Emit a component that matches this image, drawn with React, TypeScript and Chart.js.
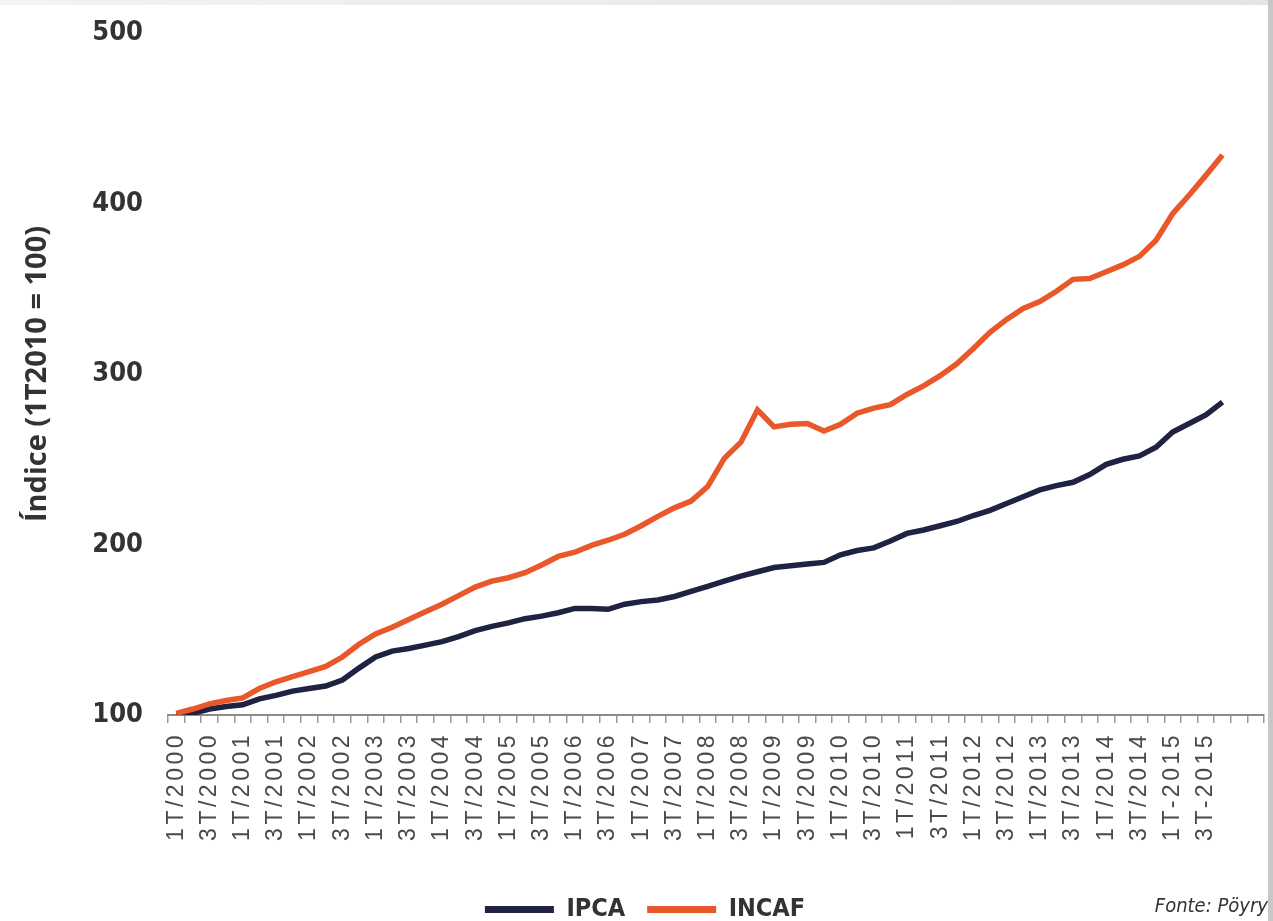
import React, { useEffect, useRef } from "react";
import { Chart, registerables } from "chart.js";

Chart.register(...registerables);

const years = [2000, 2001, 2002, 2003, 2004, 2005, 2006, 2007, 2008, 2009, 2010, 2011, 2012, 2013, 2014, 2015];
const quarters = ["1T", "2T", "3T", "4T"];
const trailingEmptyCategories = ["", ""];

const ipca = [
  100, 101, 103.5, 105, 106, 109.5, 111.5, 114, 115.5, 117,
  120.5, 127.5, 134, 137.5, 139, 141, 143, 146, 149.5, 152,
  154, 156.5, 158, 160, 162.5, 162.5, 162, 165, 166.5, 167.5,
  169.5, 172.5, 175.5, 178.5, 181.5, 184, 186.5, 187.5, 188.5, 189.5,
  194, 196.5, 198, 202, 206.5, 208.5, 211, 213.5, 217, 220,
  224, 228, 232, 234.5, 236.5, 241, 247, 250, 252, 257,
  266, 271, 276, 283.5,
];

const incaf = [
  101, 103.5, 106.5, 108.5, 110, 115.5, 119.5, 122.5, 125.5, 128.5,
  134, 141.5, 147.5, 151.5, 156, 160.5, 165, 170, 175, 178.5,
  180.5, 183.5, 188, 193, 195.5, 199.5, 202.5, 206, 211, 216.5,
  221.5, 225.5, 234, 250.5, 260, 279, 269, 270.5, 271, 266.5,
  270.5, 277, 280, 282, 288, 293, 299, 306, 315, 324.5,
  332, 338.5, 342.5, 348.5, 355.5, 356, 360, 364, 369, 378.5,
  394, 405, 416.5, 428.5,
];

const yTicks = [100, 200, 300, 400, 500];
const yTitle = "Índice (1T2010 = 100)";
const sourceText = "Fonte: Pöyry";

const categories: string[] = [];
years.forEach((y) => {
  quarters.forEach((q) => {
    categories.push(`${q}${y === 2015 ? "-" : "/"}${y}`);
  });
});
trailingEmptyCategories.forEach((c) => categories.push(c));

const NAVY = "#1f2241";
const ORANGE = "#e8582a";
const NARROW = "'Liberation Sans Narrow', 'DejaVu Sans Condensed', 'Liberation Sans', sans-serif";

const letterSpacingPlugin = {
  id: "xLabelSpacing",
  afterLayout(chart: any) {
    const lg = chart.legend;
    if (lg) {
      lg.left += 13;
      lg.right += 13;
    }
  },
  beforeDraw(chart: any) {
    chart.ctx.letterSpacing = "0px";
  },
  afterDatasetsDraw(chart: any) {
    chart.ctx.letterSpacing = "3.5px";
  },
  afterDraw(chart: any) {
    chart.ctx.letterSpacing = "0px";
  },
};

export default function App() {
  const canvasRef = useRef<HTMLCanvasElement | null>(null);

  useEffect(() => {
    if (!canvasRef.current) return;
    const chart = new Chart(canvasRef.current, {
      type: "line",
      data: {
        labels: categories,
        datasets: [
          {
            label: "IPCA",
            data: ipca,
            borderColor: NAVY,
            backgroundColor: NAVY,
            borderWidth: 5.5,
            pointRadius: 0,
            tension: 0,
            order: 1,
          },
          {
            label: "INCAF",
            data: incaf,
            borderColor: ORANGE,
            backgroundColor: ORANGE,
            borderWidth: 5.5,
            pointRadius: 0,
            tension: 0,
            order: 0,
          },
        ],
      },
      options: {
        animation: false,
        responsive: true,
        maintainAspectRatio: false,
        layout: { padding: { top: 33, right: 9, left: 0, bottom: 0 } },
        plugins: {
          tooltip: { enabled: false },
          legend: {
            position: "bottom",
            align: "center",
            labels: {
              boxWidth: 69,
              boxHeight: 7,
              padding: 22,
              color: "#333333",
              font: { family: NARROW, size: 25, weight: "bold" },
              generateLabels: (ch: any) => {
                const items = (Chart.defaults.plugins.legend.labels as any).generateLabels(ch);
                return items
                  .sort((a: any, b: any) => a.datasetIndex - b.datasetIndex)
                  .map((it: any) => ({ ...it, fillStyle: it.strokeStyle, lineWidth: 0 }));
              },
            },
          },
        },
        scales: {
          x: {
            type: "category",
            offset: true,
            grid: {
              display: true,
              drawOnChartArea: false,
              drawTicks: true,
              tickLength: 8,
              color: "#9a9a9a",
              lineWidth: 1.5,
              offset: true,
            },
            border: { display: true, color: "#8a8a8a", width: 2 },
            ticks: {
              autoSkip: false,
              maxRotation: 90,
              minRotation: 90,
              padding: 9,
              color: "#4a4a4a",
              z: 1,
              font: { family: "'Liberation Sans', Arial, sans-serif", size: 23 },
              callback: (_v: any, i: number) => (i % 2 === 0 ? categories[i] : ""),
            },
            afterFit: (s: any) => {
              s.height = 160;
              s.paddingLeft = 0;
              s.paddingRight = 0;
            },
          },
          y: {
            min: 100,
            max: 500,
            afterBuildTicks: (s: any) => {
              s.ticks = yTicks.map((v) => ({ value: v }));
            },
            grid: { display: false, drawTicks: false },
            border: { display: false },
            ticks: {
              padding: 25,
              color: "#333333",
              font: { family: NARROW, size: 27, weight: "bold" },
            },
            title: {
              display: true,
              text: yTitle,
              color: "#333333",
              font: { family: "'Open Sans', sans-serif", size: 29, weight: "bold" },
              padding: { top: 20, bottom: 0 },
            },
            afterFit: (s: any) => {
              s.width = 168;
              s.paddingTop = 0;
              s.paddingBottom = 0;
            },
          },
        },
      },
      plugins: [letterSpacingPlugin],
    } as any);
    return () => chart.destroy();
  }, []);

  return (
    <div
      style={{
        position: "fixed",
        left: 0,
        top: 0,
        width: 1273,
        height: 921,
        overflow: "hidden",
        background: "#ffffff",
      }}
    >
      <div style={{ position: "absolute", left: 0, top: 0, width: 1273, height: 932 }}>
        <canvas ref={canvasRef} />
      </div>
      <div
        style={{
          position: "absolute",
          right: 5,
          top: 892,
          fontFamily: NARROW,
          fontStyle: "italic",
          fontSize: 20,
          lineHeight: "26px",
          color: "#333333",
          whiteSpace: "nowrap",
        }}
      >
        {sourceText}
      </div>
      <div
        style={{
          position: "absolute",
          left: 0,
          top: 0,
          width: 1273,
          height: 5,
          background: "linear-gradient(to right, #f3f4f2, #e2e5e0)",
        }}
      />
      <div
        style={{
          position: "absolute",
          right: 0,
          top: 0,
          width: 5,
          height: 921,
          background: "#c6c8c5",
        }}
      />
    </div>
  );
}
